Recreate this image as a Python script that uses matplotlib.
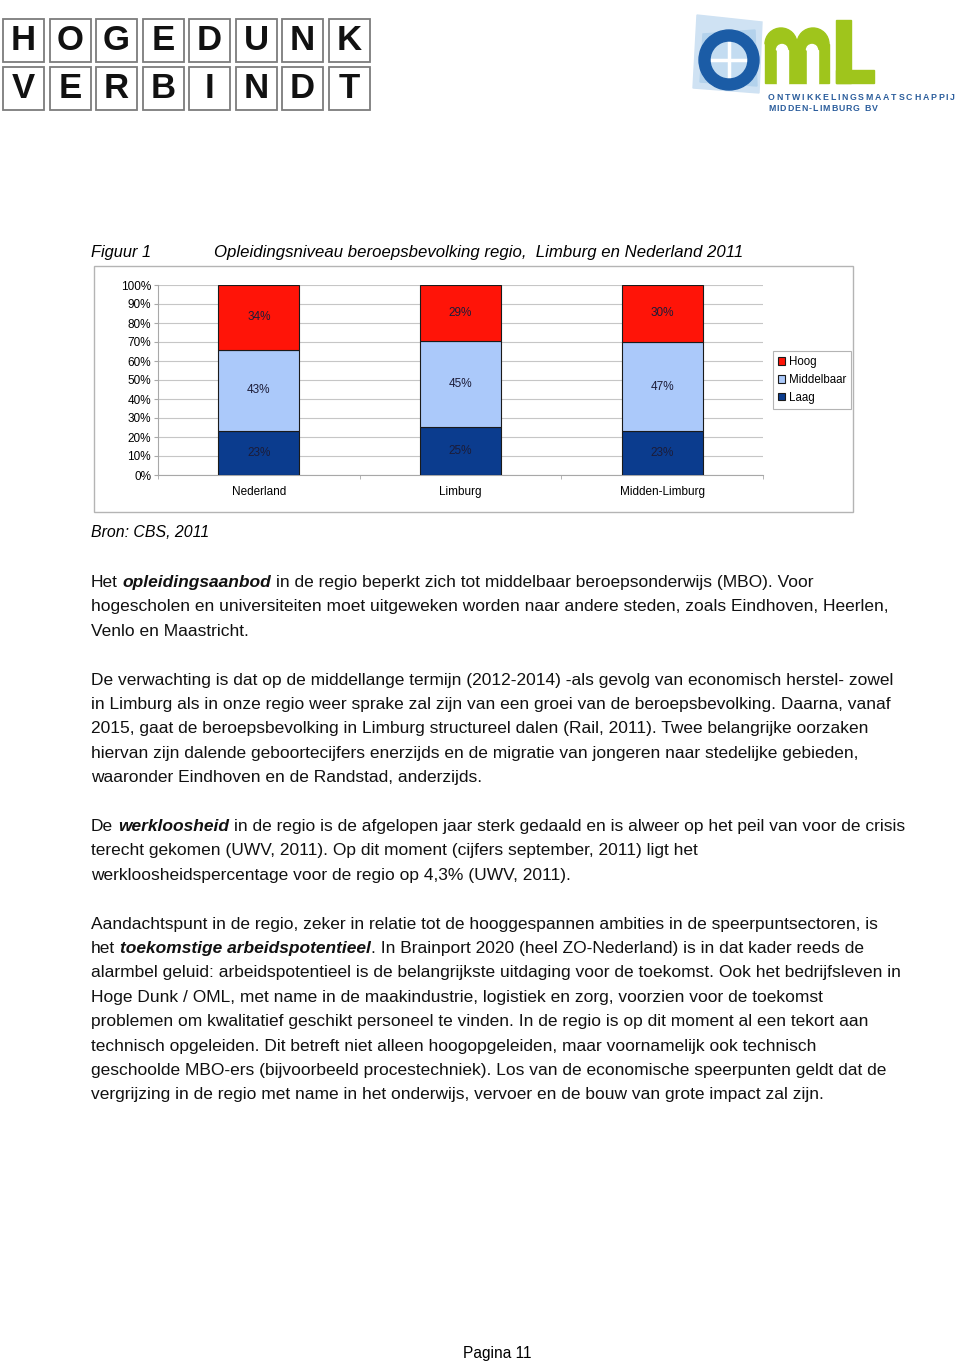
import matplotlib
matplotlib.use("Agg")
import numpy as np
import matplotlib.pyplot as plt
from matplotlib.patches import Rectangle, Circle, Wedge, Polygon

plt.rcParams['font.family'] = ['Liberation Sans', 'DejaVu Sans']

# --- Chart data (Figuur 1) ---
REGIONS = ["Nederland", "Limburg", "Midden-Limburg"]
LEVELS = ["Laag", "Middelbaar", "Hoog"]
LAAG = [23, 25, 23]
MIDDELBAAR = [43, 45, 47]
HOOG = [34, 29, 30]
Y_TICKS = [0, 10, 20, 30, 40, 50, 60, 70, 80, 90, 100]
COLORS = {"Laag": "#0b3c8e", "Middelbaar": "#abc9fa", "Hoog": "#ff1408"}

# --- Page text ---
FIG_LABEL = "Figuur 1"
FIG_TITLE = "Opleidingsniveau beroepsbevolking regio,  Limburg en Nederland 2011"
SOURCE = "Bron: CBS, 2011"
PAGE_NO = "Pagina 11"
# words between * are bold italic, "" is an empty line
BODY = [
    "Het *opleidingsaanbod* in de regio beperkt zich tot middelbaar beroepsonderwijs (MBO). Voor",
    "hogescholen en universiteiten moet uitgeweken worden naar andere steden, zoals Eindhoven, Heerlen,",
    "Venlo en Maastricht.",
    "",
    "De verwachting is dat op de middellange termijn (2012-2014) -als gevolg van economisch herstel- zowel",
    "in Limburg als in onze regio weer sprake zal zijn van een groei van de beroepsbevolking. Daarna, vanaf",
    "2015, gaat de beroepsbevolking in Limburg structureel dalen (Rail, 2011). Twee belangrijke oorzaken",
    "hiervan zijn dalende geboortecijfers enerzijds en de migratie van jongeren naar stedelijke gebieden,",
    "waaronder Eindhoven en de Randstad, anderzijds.",
    "",
    "De *werkloosheid* in de regio is de afgelopen jaar sterk gedaald en is alweer op het peil van voor de crisis",
    "terecht gekomen (UWV, 2011). Op dit moment (cijfers september, 2011) ligt het",
    "werkloosheidspercentage voor de regio op 4,3% (UWV, 2011).",
    "",
    "Aandachtspunt in de regio, zeker in relatie tot de hooggespannen ambities in de speerpuntsectoren, is",
    "het *toekomstige arbeidspotentieel*. In Brainport 2020 (heel ZO-Nederland) is in dat kader reeds de",
    "alarmbel geluid: arbeidspotentieel is de belangrijkste uitdaging voor de toekomst. Ook het bedrijfsleven in",
    "Hoge Dunk / OML, met name in de maakindustrie, logistiek en zorg, voorzien voor de toekomst",
    "problemen om kwalitatief geschikt personeel te vinden. In de regio is op dit moment al een tekort aan",
    "technisch opgeleiden. Dit betreft niet alleen hoogopgeleiden, maar voornamelijk ook technisch",
    "geschoolde MBO-ers (bijvoorbeeld procestechniek). Los van de economische speerpunten geldt dat de",
    "vergrijzing in de regio met name in het onderwijs, vervoer en de bouw van grote impact zal zijn.",
]
LOGO_ROWS = ["HOGEDUNK", "VERBINDT"]
OML_LINES = ["ONTWIKKELINGSMAATSCHAPPIJ", "MIDDEN-LIMBURG BV"]

W, H = 960, 1363
fig = plt.figure(figsize=(W / 100, H / 100), dpi=100)
page = fig.add_axes([0, 0, 1, 1])
page.set_xlim(0, W)
page.set_ylim(H, 0)
page.axis('off')
renderer = fig.canvas.get_renderer()


def text_width(s, **kw):
    t = page.text(0, 0, s, **kw)
    w = t.get_window_extent(renderer=renderer).width
    t.remove()
    return w


# --- Hoge Dunk logo ---
for r, word in enumerate(LOGO_ROWS):
    y0 = 19 + r * 48
    for c, ch in enumerate(word):
        x0 = 3 + c * 46.5
        page.add_patch(Rectangle((x0, y0), 41, 43, fill=False,
                                 edgecolor='#7c7c7c', linewidth=1.3))
        page.text(x0 + 20.5, y0 + 22, ch, ha='center', va='center',
                  fontsize=25, fontweight='bold', color='#111111')

# --- OML logo ---
page.add_patch(Polygon([(697, 15), (762, 22), (759, 93), (693, 88)],
                       color='#cfe2f3', zorder=1))
page.add_patch(Polygon([(703, 34), (755, 30), (757, 86), (700, 82)],
                       color='#b3d2ec', zorder=1))
page.add_patch(Circle((729, 60), 19, color='#c3dcf1', zorder=2))
page.plot([711, 747], [60, 60], color='white', lw=2.5, zorder=3)
page.plot([729, 729], [42, 78], color='white', lw=2.5, zorder=3)
page.add_patch(Wedge((729, 60), 30, 0, 360, width=11, color='#1b5ca6', zorder=4))

green = '#9fc51c'
page.add_patch(Wedge((781, 44), 16, 180, 360, color=green))
page.add_patch(Wedge((813, 44), 16, 180, 360, color=green))
page.add_patch(Rectangle((765, 44), 64, 39, color=green))
for cx in (782, 812):
    page.add_patch(Rectangle((cx - 5.5, 50), 11, 34, color='white'))
    page.add_patch(Wedge((cx, 50), 5.5, 180, 360, color='white'))
page.add_patch(Rectangle((836, 20), 15, 63, color=green))
page.add_patch(Rectangle((836, 70), 38, 13, color=green))

oml_kw = dict(fontsize=6.3, fontweight='bold', color='#2b5d9c')
for i, (line, span) in enumerate(zip(OML_LINES, [187, 110])):
    widths = [text_width(ch, **oml_kw) if ch != ' ' else 3.0 for ch in line]
    track = (span - sum(widths)) / (len(line) - 1)
    xc = 768.0
    for ch, w in zip(line, widths):
        if ch != ' ':
            page.text(xc, 98 + i * 10.5, ch, ha='left', va='center', **oml_kw)
        xc += w + track

# --- Figure title and source ---
page.text(91, 257, FIG_LABEL, fontsize=11.8, style='italic', va='baseline')
page.text(214, 257, FIG_TITLE, fontsize=12.1, style='italic', va='baseline')
page.text(91, 537, SOURCE, fontsize=11.4, style='italic', va='baseline')
page.text(497, 1358, PAGE_NO, fontsize=11.2, ha='center', va='baseline')

# chart frame
page.add_patch(Rectangle((94, 266), 759, 246, fill=False,
                         edgecolor='#b4b4b4', linewidth=1.0))

# --- Body text ---
BODY_SIZE = 12.5
space_w = 0.278 * BODY_SIZE / 0.72
for n, line in enumerate(BODY):
    if not line:
        continue
    y = 587 + n * 24.4
    xpos = 91.0
    for k, part in enumerate(line.split('*')):
        if not part:
            continue
        lead = len(part) - len(part.lstrip(' '))
        trail = len(part) - len(part.rstrip(' '))
        xpos += lead * space_w
        core = part.strip(' ')
        if core:
            emph = k % 2 == 1
            t = page.text(xpos, y, core, fontsize=BODY_SIZE, va='baseline',
                          fontweight='bold' if emph else 'normal',
                          style='italic' if emph else 'normal', color='#111111')
            xpos += t.get_window_extent(renderer=renderer).width
        xpos += trail * space_w

# --- Chart ---
ax = fig.add_axes([158 / W, 1 - 475 / H, 605 / W, 190 / H])
ax.set_facecolor('none')
vals = np.array([LAAG, MIDDELBAAR, HOOG], dtype=float)
shares = vals / vals.sum(axis=0) * 100
x = np.arange(len(REGIONS))
bottom = np.zeros(len(REGIONS))
handles = {}
for name, raw, share in zip(LEVELS, vals, shares):
    bars = ax.bar(x, share, 0.4, bottom=bottom, color=COLORS[name],
                  edgecolor='#1a1a1a', linewidth=0.8, label=name, zorder=3)
    ax.bar_label(bars, labels=[f"{v:.0f}%" for v in raw], label_type='center',
                 fontsize=8.5, color='#1c1c38')
    handles[name] = bars
    bottom += share

ax.set_xlim(-0.5, 2.5)
ax.set_ylim(0, 100)
ax.set_yticks(Y_TICKS)
ax.set_yticklabels([f"{v}%" for v in Y_TICKS])
ax.yaxis.grid(True, color='#c6c6c6', linewidth=0.8, zorder=0)
ax.set_xticks(x)
ax.set_xticklabels(REGIONS)
ax.set_xticks([-0.5, 0.5, 1.5, 2.5], minor=True)
ax.tick_params(axis='x', which='major', length=0, pad=8, labelsize=8.5)
ax.tick_params(axis='x', which='minor', length=3, color='#a8a8a8')
ax.tick_params(axis='y', length=3, pad=2, color='#a8a8a8', labelsize=8.5)
for side in ('top', 'right'):
    ax.spines[side].set_visible(False)
for side in ('left', 'bottom'):
    ax.spines[side].set_color('#a8a8a8')
    ax.spines[side].set_linewidth(0.8)

leg = ax.legend([handles[n] for n in LEVELS[::-1]], LEVELS[::-1],
                loc='upper left', bbox_to_anchor=(773 / W, 1 - 351 / H),
                bbox_transform=fig.transFigure, fontsize=8.3,
                handlelength=0.6, handleheight=0.6, handletextpad=0.3,
                borderpad=0.45, labelspacing=0.5, borderaxespad=0,
                fancybox=False, framealpha=1)
leg.get_frame().set_edgecolor('#b4b4b4')
leg.get_frame().set_linewidth(0.8)

fig.savefig("out.png", dpi=100)
